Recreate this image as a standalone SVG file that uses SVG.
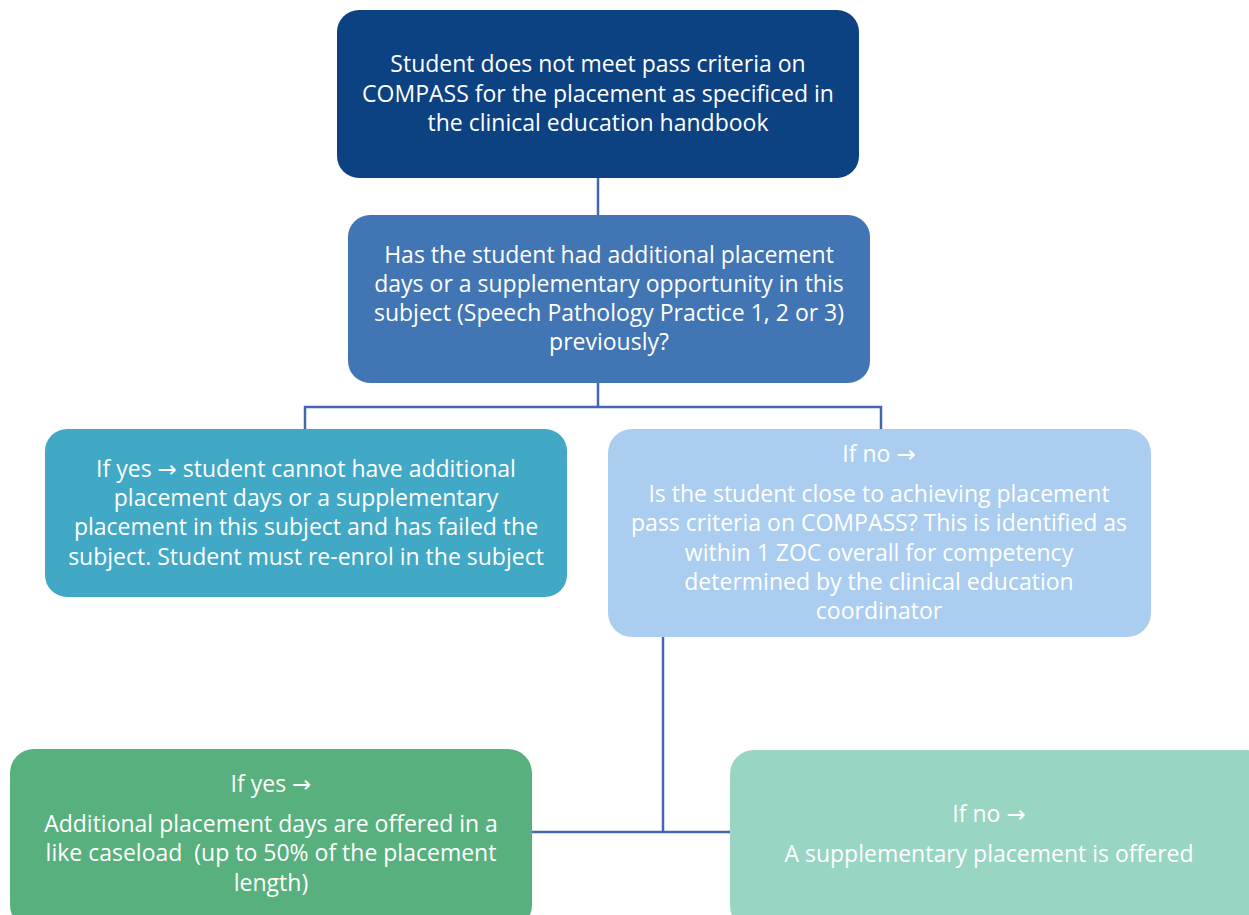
<svg xmlns="http://www.w3.org/2000/svg" width="1249" height="915" viewBox="0 0 1249 915">
<style>
.t{font-family:"Open Sans","DejaVu Sans",sans-serif;font-size:23px;fill:#fff;text-anchor:middle;white-space:pre}
.c{fill:none;stroke:#4468B0;stroke-width:2.5}
</style>
<rect width="1249" height="915" fill="#fff"/>
<g id="connectors">
<path class="c" d="M598,178V215"/>
<path class="c" d="M598,383V407M305,429V407H881V429"/>
<path class="c" d="M663,637V833M532,832H730"/>
</g>
<g id="n1">
<rect x="337" y="10" width="522" height="168" rx="22" fill="#0C4182"/>
<text class="t" x="598" y="72">Student does not meet pass criteria on</text>
<text class="t" x="598" y="102">COMPASS for the placement as specificed in</text>
<text class="t" x="598" y="131">the clinical education handbook</text>
</g>
<g id="n2">
<rect x="348" y="215" width="522" height="168" rx="22" fill="#4175B4"/>
<text class="t" x="609" y="263">Has the student had additional placement</text>
<text class="t" x="609" y="292">days or a supplementary opportunity in this</text>
<text class="t" x="609" y="321">subject (Speech Pathology Practice 1, 2 or 3)</text>
<text class="t" x="609" y="350">previously?</text>
</g>
<g id="n3">
<rect x="45" y="429" width="522" height="168" rx="22" fill="#41A8C6"/>
<text class="t" x="306" y="477">If yes → student cannot have additional</text>
<text class="t" x="306" y="506">placement days or a supplementary</text>
<text class="t" x="306" y="535">placement in this subject and has failed the</text>
<text class="t" x="306" y="565">subject. Student must re-enrol in the subject</text>
</g>
<g id="n4">
<rect x="608" y="429" width="543" height="208" rx="24" fill="#ABCDEF"/>
<text class="t" x="879" y="462">If no →</text>
<text class="t" x="879" y="502">Is the student close to achieving placement</text>
<text class="t" x="879" y="531">pass criteria on COMPASS? This is identified as</text>
<text class="t" x="879" y="561">within 1 ZOC overall for competency</text>
<text class="t" x="879" y="590">determined by the clinical education</text>
<text class="t" x="879" y="619">coordinator</text>
</g>
<g id="n5">
<rect x="10" y="749" width="522" height="180" rx="24" fill="#58B07E"/>
<text class="t" x="271" y="792">If yes →</text>
<text class="t" x="271" y="832">Additional placement days are offered in a</text>
<text class="t" x="271" y="861">like caseload  (up to 50% of the placement</text>
<text class="t" x="271" y="891">length)</text>
</g>
<g id="n6">
<rect x="730" y="750" width="540" height="180" rx="24" fill="#98D5C3"/>
<text class="t" x="989" y="822">If no →</text>
<text class="t" x="989" y="862">A supplementary placement is offered</text>
</g>
</svg>
